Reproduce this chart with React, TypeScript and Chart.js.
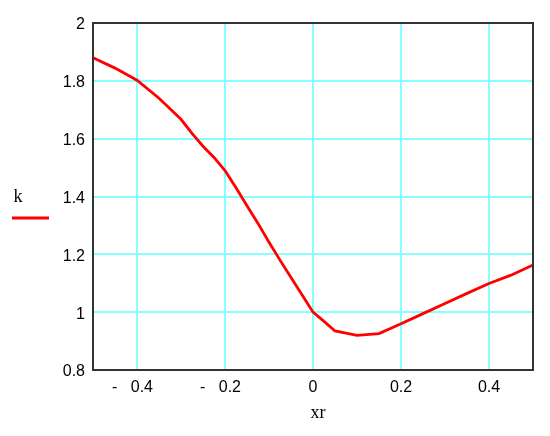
import React, { useEffect, useRef } from "react";
import { Chart, registerables } from "chart.js";

Chart.register(...registerables);

const xValues = [-0.5, -0.45, -0.4, -0.35, -0.3, -0.275, -0.25, -0.225, -0.2, -0.175, -0.15, -0.125, -0.1, -0.075, -0.05, -0.025, 0, 0.025, 0.05, 0.1, 0.15, 0.2, 0.25, 0.3, 0.35, 0.4, 0.45, 0.5];
const kValues = [1.88, 1.844, 1.802, 1.74, 1.667, 1.618, 1.574, 1.535, 1.49, 1.43, 1.368, 1.307, 1.242, 1.18, 1.12, 1.06, 1.0, 0.968, 0.935, 0.92, 0.926, 0.96, 0.995, 1.03, 1.065, 1.099, 1.128, 1.163];
const xTicks = [-0.4, -0.2, 0, 0.2, 0.4];
const yTicks = [0.8, 1, 1.2, 1.4, 1.6, 1.8, 2];
const xTitle = "xr";
const seriesName = "k";

const tickFont = "'Liberation Sans', sans-serif";

function fmt(v: number): string {
  const r = Math.round(v * 10) / 10;
  if (Math.abs(r) < 1e-9) return "0";
  const s = String(Math.abs(r));
  return r < 0 ? "-   " + s + "  " : s;
}

const overlay = {
  id: "overlay",
  afterDraw(chart: any) {
    const { ctx, chartArea } = chart;
    ctx.save();
    ctx.strokeStyle = "#333333";
    ctx.lineWidth = 2;
    ctx.strokeRect(chartArea.left, chartArea.top, chartArea.right - chartArea.left, chartArea.bottom - chartArea.top);
    ctx.fillStyle = "#000000";
    ctx.font = "18px 'Liberation Serif'";
    ctx.textAlign = "center";
    ctx.textBaseline = "middle";
    ctx.fillText(xTitle, 318, 413);
    ctx.fillText(seriesName, 18, 197);
    ctx.strokeStyle = "#ff0000";
    ctx.lineWidth = 3;
    ctx.beginPath();
    ctx.moveTo(12, 218);
    ctx.lineTo(49, 218);
    ctx.stroke();
    ctx.restore();
  },
};

export default function App() {
  const ref = useRef<HTMLCanvasElement | null>(null);
  useEffect(() => {
    if (!ref.current) return;
    const chart = new Chart(ref.current, {
      type: "line",
      data: {
        datasets: [
          {
            label: seriesName,
            data: xValues.map((x, i) => ({ x, y: kValues[i] })),
            borderColor: "#ff0000",
            borderWidth: 2.8,
            pointRadius: 0,
            tension: 0,
            fill: false,
          },
        ],
      },
      options: {
        animation: false,
        responsive: false,
        maintainAspectRatio: false,
        layout: { padding: { left: 0, right: 17, top: 23, bottom: 0 } },
        plugins: { legend: { display: false }, tooltip: { enabled: false } },
        scales: {
          x: {
            type: "linear",
            min: -0.5,
            max: 0.5,
            afterBuildTicks: (s: any) => {
              s.ticks = xTicks.map((v) => ({ value: v }));
            },
            afterFit: (s: any) => {
              s.height = 66;
            },
            grid: { color: "#88ffff", lineWidth: 2, drawTicks: false },
            border: { display: false },
            ticks: {
              padding: 8,
              color: "#000000",
              font: { family: tickFont, size: 16 },
              callback: (v: any) => fmt(Number(v)),
              maxRotation: 0,
              autoSkip: false,
            },
          },
          y: {
            type: "linear",
            min: 0.8,
            max: 2,
            afterBuildTicks: (s: any) => {
              s.ticks = yTicks.map((v) => ({ value: v }));
            },
            afterFit: (s: any) => {
              s.width = 93;
            },
            grid: { color: "#88ffff", lineWidth: 2, drawTicks: false },
            border: { display: false },
            ticks: {
              padding: 8,
              color: "#000000",
              font: { family: tickFont, size: 16 },
              callback: (v: any) => fmt(Number(v)),
              autoSkip: false,
              labelOffset: 2,
            },
          },
        },
      },
      plugins: [overlay],
    });
    return () => chart.destroy();
  }, []);
  return (
    <div style={{ position: "fixed", left: 0, top: 0, width: 550, height: 436, background: "#ffffff" }}>
      <canvas ref={ref} width={550} height={436} style={{ width: 550, height: 436, display: "block" }} />
    </div>
  );
}
